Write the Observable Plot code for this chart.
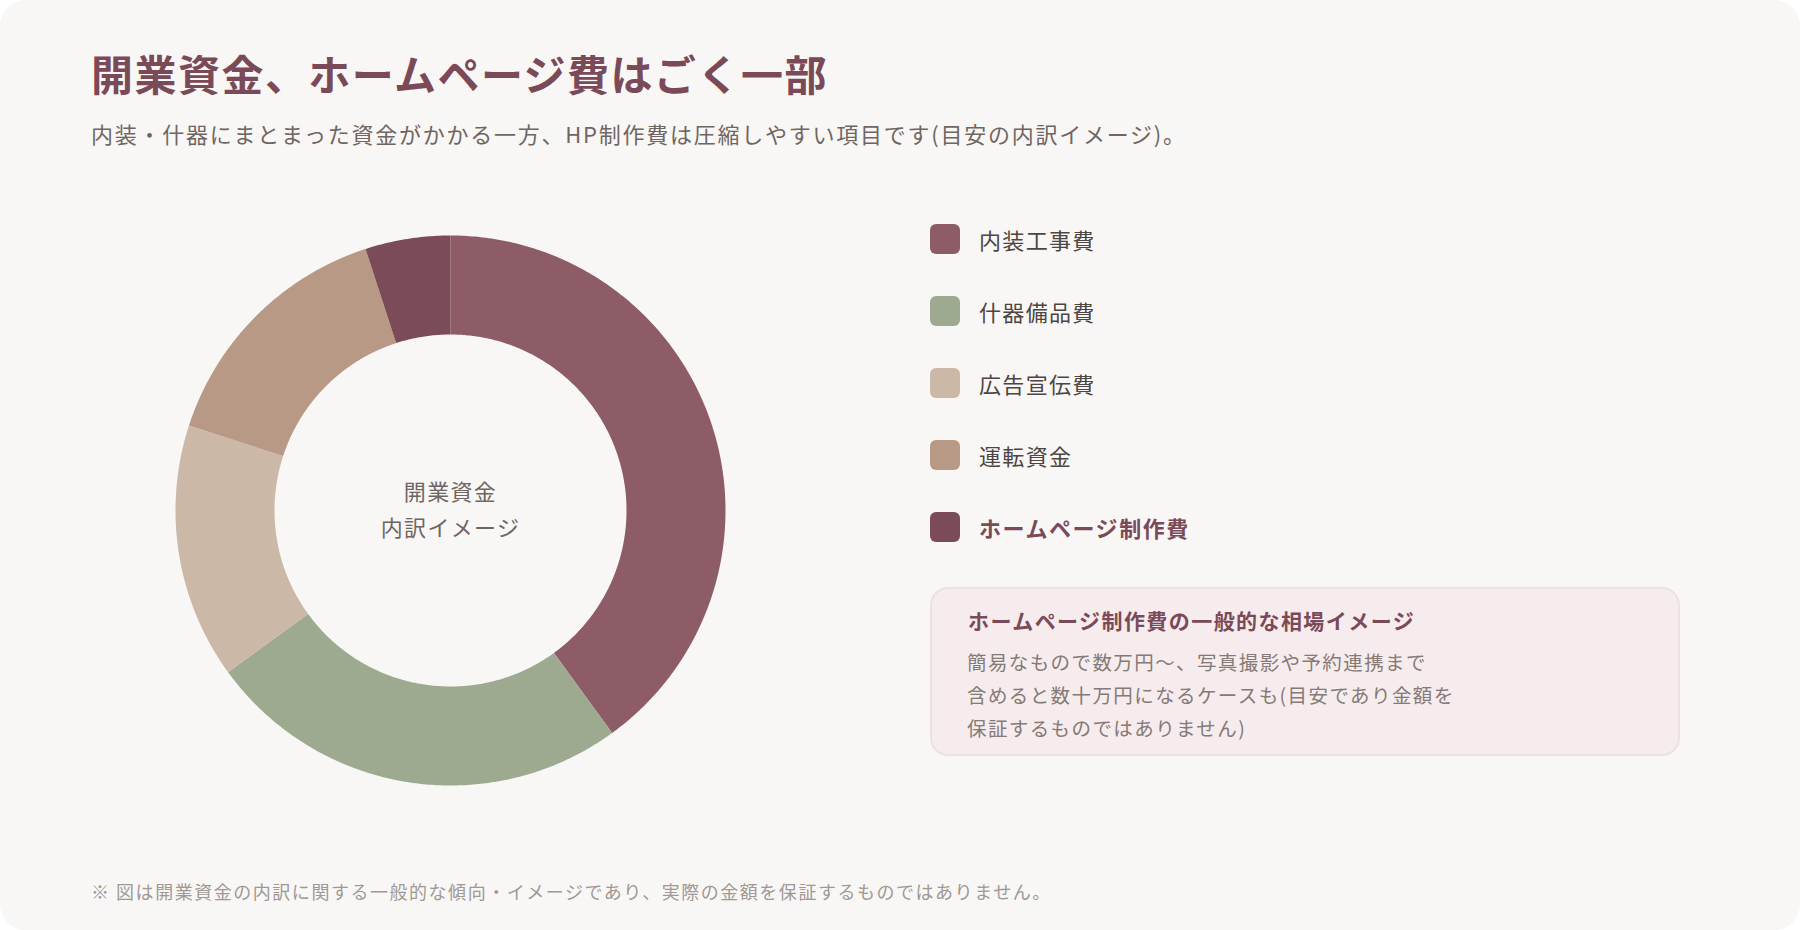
<!DOCTYPE html>
<html lang="ja">
<head>
<meta charset="utf-8">
<script src="https://cdn.jsdelivr.net/npm/d3@7"></script>
<script src="https://cdn.jsdelivr.net/npm/@observablehq/plot@0.6"></script>
<style>
  html, body { margin: 0; padding: 0; background: #ffffff; }
  body { width: 1800px; height: 930px; position: relative; overflow: hidden;
         font-family: "Noto Sans CJK JP", "Noto Sans", sans-serif; }
  #card { position: absolute; left: 0; top: 0; width: 1800px; height: 930px;
          background: #f9f7f5; border-radius: 26px; }
  .abs { position: absolute; white-space: nowrap; }
  #title { left: 91px; top: 48px; font-size: 42px; font-weight: 700; color: #7b4a58;
           letter-spacing: 0.035em; line-height: 1.2; }
  #subtitle { left: 91px; top: 119px; font-size: 22px; color: #6f6662;
              letter-spacing: 0.08em; line-height: 1.3; }
  #chart { left: 150px; top: 210px; }
  #chart svg text { letter-spacing: 0.06em; }
  .leg { position: absolute; left: 930px; height: 30px; display: flex; align-items: center; }
  .sw { width: 30px; height: 30px; border-radius: 6px; }
  .lab { margin-left: 19px; font-size: 22px; color: #4d4542; letter-spacing: 0.06em; }
  .lab.hl { color: #7b4a58; font-weight: 700; letter-spacing: 0.07em; }
  #box { left: 930px; top: 587px; width: 750px; height: 169px; box-sizing: border-box;
         background: #f6eced; border: 2px solid #ece2e0; border-radius: 18px; }
  #boxtitle { position: absolute; left: 36px; top: 16px; font-size: 21px; font-weight: 700;
              color: #7b4a58; letter-spacing: 0.068em; }
  #boxbody { position: absolute; left: 35px; top: 56px; font-size: 19.5px; color: #857a76;
             letter-spacing: 0.072em; line-height: 33px; white-space: nowrap; }
  #footer { left: 91px; top: 878px; font-size: 18px; color: #a09893; letter-spacing: 0.085em; }
</style>
</head>
<body>
<div id="card"></div>
<div id="title" class="abs">開業資金、ホームページ費はごく一部</div>
<div id="subtitle" class="abs">内装・什器にまとまった資金がかかる一方、HP制作費は圧縮しやすい項目です(目安の内訳イメージ)。</div>
<div id="chart" class="abs"></div>
<div id="legend"></div>
<div id="box" class="abs">
  <div id="boxtitle"></div>
  <div id="boxbody"></div>
</div>
<div id="footer" class="abs">※ 図は開業資金の内訳に関する一般的な傾向・イメージであり、実際の金額を保証するものではありません。</div>
<script>
// ---- data ----
const categories = ["内装工事費", "什器備品費", "広告宣伝費", "運転資金", "ホームページ制作費"];
const shares = [40, 25, 15, 15, 5];
const colors = ["#8e5c67", "#9daa8f", "#ccb8a6", "#b89985", "#7b4c58"];
const highlight = "ホームページ制作費";
const centerLines = ["開業資金", "内訳イメージ"];
const boxTitle = "ホームページ制作費の一般的な相場イメージ";
const boxLines = ["簡易なもので数万円〜、写真撮影や予約連携まで", "含めると数十万円になるケースも(目安であり金額を", "保証するものではありません)"];

// ---- donut geometry from pie layout ----
const outerR = 275, innerR = 176;
const arcs = d3.pie().sort(null).value(d => d.v)(categories.map((c, i) => ({c, v: shares[i]})));
const pts = [];
for (const a of arcs) {
  const n = Math.max(8, Math.ceil((a.endAngle - a.startAngle) / 0.01));
  for (let k = 0; k <= n; k++) {
    const t = a.startAngle + (a.endAngle - a.startAngle) * k / n;
    pts.push({cat: a.data.c, x: outerR * Math.sin(t), y: -outerR * Math.cos(t)});
  }
  for (let k = n; k >= 0; k--) {
    const t = a.startAngle + (a.endAngle - a.startAngle) * k / n;
    pts.push({cat: a.data.c, x: innerR * Math.sin(t), y: -innerR * Math.cos(t)});
  }
}
const centerData = centerLines.map((t, i) => ({t, y: i === 0 ? -18 : 18}));

const plot = Plot.plot({
  width: 600, height: 600, margin: 0,
  style: {background: "transparent", fontFamily: "'Noto Sans CJK JP', sans-serif"},
  x: {domain: [-300, 300], range: [0, 600], axis: null},
  y: {domain: [-300, 300], range: [0, 600], axis: null},
  color: {domain: categories, range: colors},
  marks: [
    Plot.line(pts, {x: "x", y: "y", z: "cat", fill: "cat", stroke: "none", curve: "linear-closed"}),
    Plot.text(centerData, {x: () => 0, y: "y", text: "t", fontSize: 22, fill: "#6f6662"})
  ]
});
document.getElementById("chart").appendChild(plot);

// ---- legend ----
const leg = document.getElementById("legend");
categories.forEach((c, i) => {
  const row = document.createElement("div");
  row.className = "leg";
  row.style.top = (224 + i * 72) + "px";
  const sw = document.createElement("div");
  sw.className = "sw"; sw.style.background = colors[i];
  const lab = document.createElement("div");
  lab.className = "lab" + (c === highlight ? " hl" : "");
  lab.textContent = c;
  row.appendChild(sw); row.appendChild(lab);
  leg.appendChild(row);
});
document.getElementById("boxtitle").textContent = boxTitle;
document.getElementById("boxbody").innerHTML = boxLines.map(s => s.replace(/&/g, "&amp;").replace(/</g, "&lt;")).join("<br>");
</script>
</body>
</html>
